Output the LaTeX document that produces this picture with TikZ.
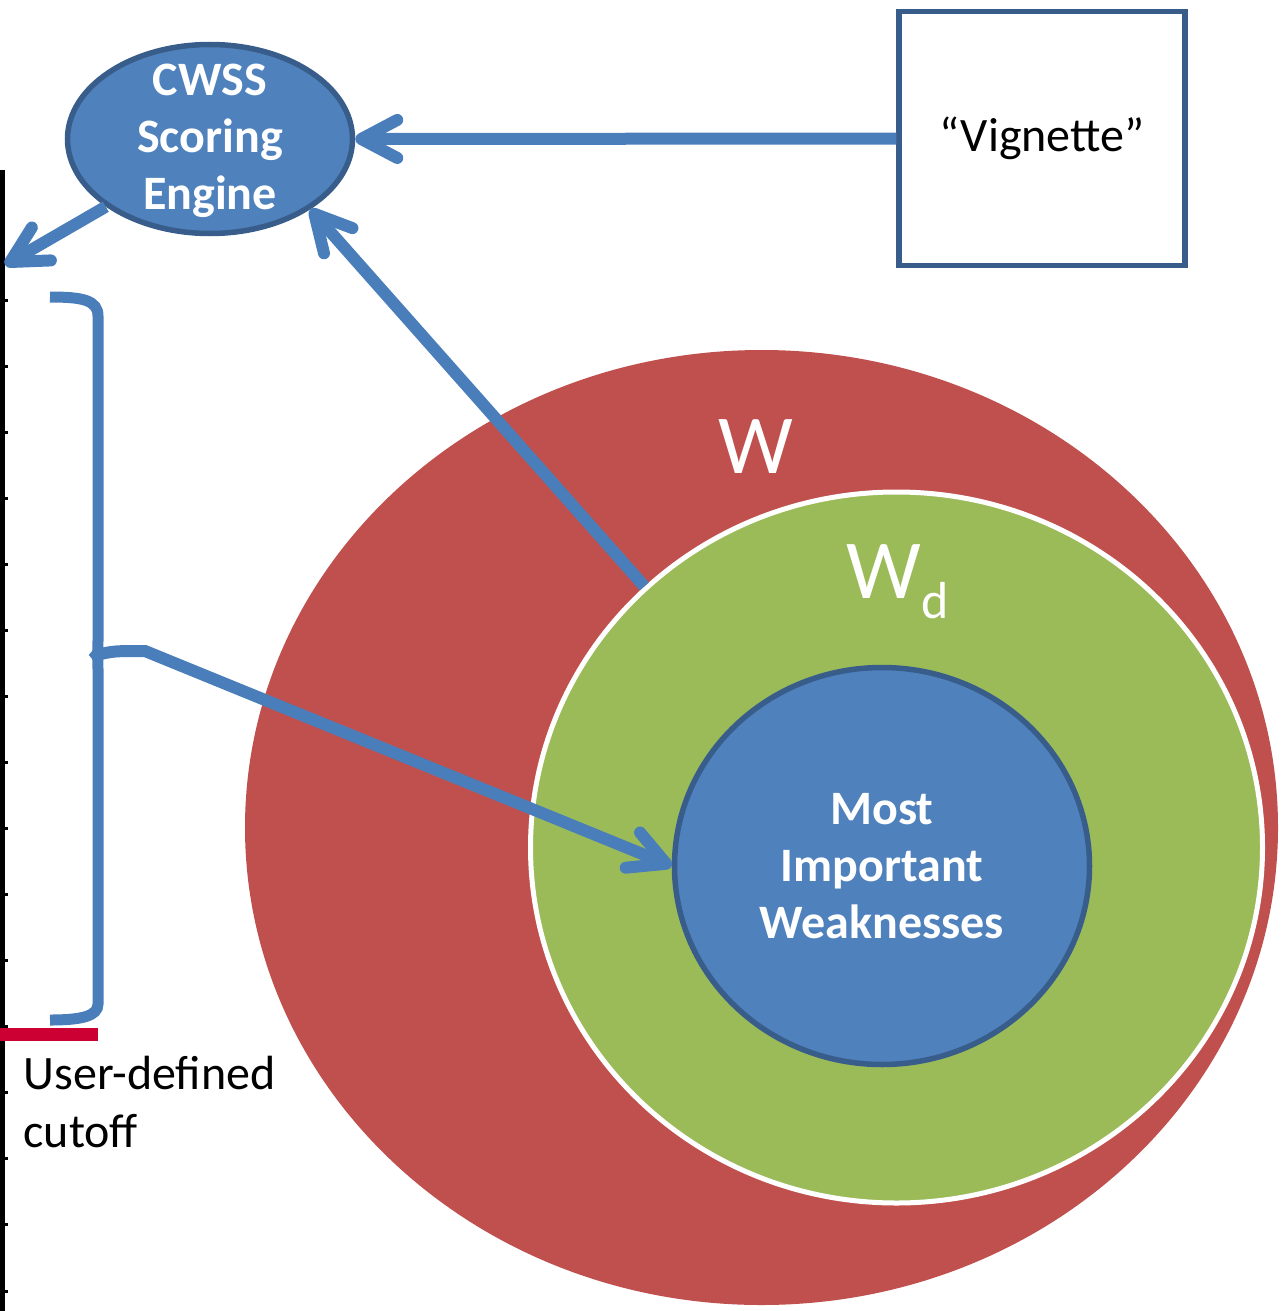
\documentclass[tikz,border=0pt]{standalone}
\usepackage{fontspec}
\setmainfont{Carlito}
\usetikzlibrary{shapes.geometric,arrows.meta}
\definecolor{wred}{HTML}{C0504D}
\definecolor{wgreen}{HTML}{9BBB59}
\definecolor{wblue}{HTML}{4F81BD}
\definecolor{wedge}{HTML}{385D8A}
\definecolor{wline}{HTML}{4A7EBB}
\definecolor{cutred}{HTML}{CC0033}
\begin{document}
\begin{tikzpicture}[x=1pt,y=-1pt,
  link/.style={draw=wline, line width=12pt,
    -{Straight Barb[length=36pt,width=38pt,round]}},
  bracestyle/.style={draw=wline, line width=11pt},
  boldwhite/.style={font=\fontsize{48}{57}\selectfont\bfseries, text=white, align=center},
  plain/.style={font=\fontsize{48}{58}\selectfont, text=black},
]
\useasboundingbox (0,0) rectangle (1282,1311);

% nested sets
\node[ellipse, fill=wred, minimum width=1033pt, minimum height=955pt, inner sep=0pt] (w) at (761.5,827.5) {};
\node[ellipse, fill=wgreen, draw=white, line width=5pt, minimum width=732pt, minimum height=711pt, inner sep=0pt] (wd) at (896.5,847.5) {};
\node[ellipse, fill=wblue, draw=wedge, line width=5.5pt, minimum width=415pt, minimum height=397pt, inner sep=0pt, boldwhite] (mi) at (882,866) {Most\\Important\\Weaknesses};

\node[font=\fontsize{84}{84}\selectfont, text=white, anchor=base] (wlabel) at (756,473) {W};
\node[font=\fontsize{84}{84}\selectfont, text=white, anchor=base] (wdlabel) at (898,598) {W\raisebox{-20pt}{\fontsize{52}{52}\selectfont d}};

% scoring engine and vignette
\node[ellipse, fill=wblue, draw=wedge, line width=5.5pt, minimum width=285pt, minimum height=189pt, inner sep=0pt] (cwss) at (210,139) {};
\node[boldwhite] (cwsslabel) at (210,141) {CWSS\\Scoring\\Engine};

\node[draw=wedge, line width=5.5pt, fill=white, minimum width=286pt, minimum height=254pt, inner sep=0pt, plain] (vig) at (1042,138.5) {“Vignette”};

% score axis with ticks
\draw[line width=4.5pt] (2.5,170) -- (2.5,1311);
\foreach \k in {0,...,15}
  \draw[line width=3pt] (2,{300+66.07*\k}) -- (8,{300+66.07*\k});
\coordinate (axtip) at (5,265);

% user-defined cutoff
\fill[cutred] (0,1028) rectangle (98,1041);
\node[plain, anchor=base west, align=left] (cut) at (20,1147) {User-defined\\cutoff};

% brace over the ranked range
\coordinate (bracetip) at (96,655);
\draw[bracestyle] (50,297) .. controls (82,297) and (98,300) .. (98,316)
  -- (98,640) .. controls (98,650) and (98,654) .. (bracetip)
  .. controls (98,656) and (98,660) .. (98,670)
  -- (98,1004) .. controls (98,1016) and (82,1020) .. (50,1020);

% connectors
\draw[link] (vig.west) -- (cwss.east);
\draw[link] (cwss.213) -- (axtip);
\draw[link] (wd.134.6) -- (cwss.-35);
\draw[link] (bracetip) .. controls (114,651) .. (145,651) -- (mi.west);
\end{tikzpicture}
\end{document}
